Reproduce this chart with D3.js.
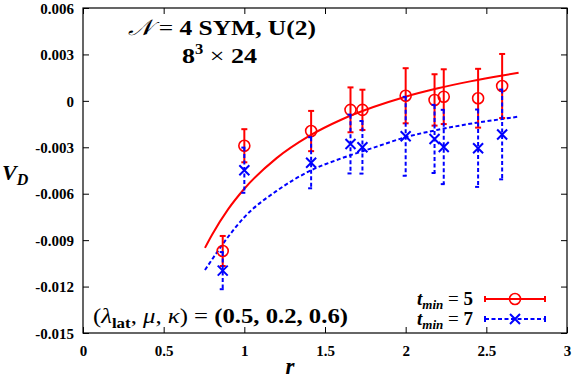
<!DOCTYPE html>
<html>
<head>
<meta charset="utf-8">
<script src="https://cdn.jsdelivr.net/npm/d3@7"></script>
<style>
  body { margin: 0; background: #fff; }
  text { font-family: "Liberation Serif", "DejaVu Serif", serif; }
</style>
</head>
<body>
<svg id="chart" width="580" height="381"></svg>
<script>
// separations r and the two data sets (t_min = 5 and t_min = 7)
var r_values = [0.866, 1.0, 1.414, 1.658, 1.732, 2.0, 2.179, 2.236, 2.449, 2.598];
var vd_tmin5 = [-0.0097, -0.0029, -0.00195, -0.00058, -0.00058, 0.00033, 0.00006, 0.00027, 0.00017, 0.00096];
var err_tmin5 = [0.00097, 0.00107, 0.0013, 0.00145, 0.0013, 0.00178, 0.00166, 0.00177, 0.0019, 0.00207];
var vd_tmin7 = [-0.01097, -0.00448, -0.004, -0.00279, -0.003, -0.00229, -0.00246, -0.00298, -0.00306, -0.00217];
var err_tmin7 = [0.0012, 0.00146, 0.00165, 0.0019, 0.0017, 0.00255, 0.0022, 0.0024, 0.0025, 0.0029];

// fit curves
var fit_r = [0.756, 0.8, 0.9, 1.0, 1.2, 1.4, 1.6, 1.8, 2.0, 2.2, 2.4, 2.6, 2.7];
var fit_tmin5 = [-0.0095, -0.00865, -0.0070, -0.00568, -0.0037, -0.00228, -0.00122, -0.0004, 0.00027, 0.00081, 0.00126, 0.00164, 0.00181];
var fit_tmin7 = [-0.01093, -0.01025, -0.00878, -0.00752, -0.00582, -0.00456, -0.00372, -0.00303, -0.00235, -0.00187, -0.00148, -0.00117, -0.00102];

var x_ticks = [0, 0.5, 1, 1.5, 2, 2.5, 3];
var y_ticks = [-0.015, -0.012, -0.009, -0.006, -0.003, 0, 0.003, 0.006];
var legend_labels = ["5", "7"];

var svg = d3.select("#chart");
var left = 83, top_ = 8, right = 567, bottom = 333;

var x = d3.scaleLinear().domain([0, 3]).range([left, right]);
var y = d3.scaleLinear().domain([-0.015, 0.006]).range([bottom, top_]);

// cadre
svg.append("rect")
   .attr("x", left).attr("y", top_)
   .attr("width", right - left).attr("height", bottom - top_)
   .attr("fill", "none").attr("stroke", "#000").attr("stroke-width", 1.2);

function fmt_y(d){ return d === 0 ? "0" : d3.format(".3f")(d).replace("−", "-"); }
function fmt_x(d){ return String(d); }

var xAxis = svg.append("g").attr("transform", "translate(0," + bottom + ")")
   .call(d3.axisBottom(x).tickValues(x_ticks).tickFormat(fmt_x).tickSizeInner(-6).tickSizeOuter(0).tickPadding(12));
var yAxis = svg.append("g").attr("transform", "translate(" + left + ",0)")
   .call(d3.axisLeft(y).tickValues(y_ticks).tickFormat(fmt_y).tickSizeInner(-6).tickSizeOuter(0).tickPadding(9));
// ticks miroir (haut et droite)
svg.append("g").attr("transform", "translate(0," + top_ + ")")
   .call(d3.axisTop(x).tickValues(x_ticks).tickFormat("").tickSizeInner(-6).tickSizeOuter(0));
svg.append("g").attr("transform", "translate(" + right + ",0)")
   .call(d3.axisRight(y).tickValues(y_ticks).tickFormat("").tickSizeInner(-6).tickSizeOuter(0));

svg.selectAll(".domain").remove();
svg.selectAll(".tick line").attr("stroke", "#000").attr("stroke-width", 1);
svg.selectAll(".tick text")
   .style("font-family", "Liberation Serif, serif")
   .style("font-weight", "bold")
   .style("font-size", "15px")
   .attr("fill", "#000");
yAxis.selectAll(".tick text").attr("dy", "0.35em");

// étiquettes des axes
svg.append("text").attr("x", 290).attr("y", 374).attr("text-anchor", "middle")
   .style("font-size", "23px").style("font-weight", "bold").style("font-style", "italic").text("r");
var vlab = svg.append("text").attr("x", 2).attr("y", 180)
   .style("font-size", "22px").style("font-weight", "bold").style("font-style", "italic");
vlab.append("tspan").text("V");
vlab.append("tspan").attr("dy", 5).style("font-size", "16px").text("D");

// courbes de fit
var line = d3.line().curve(d3.curveMonotoneX);
svg.append("path")
   .attr("d", line(fit_r.map(function(r, i){ return [x(r), y(fit_tmin5[i])]; })))
   .attr("fill", "none").attr("stroke", "#ff0000").attr("stroke-width", 2);
svg.append("path")
   .attr("d", line(fit_r.map(function(r, i){ return [x(r), y(fit_tmin7[i])]; })))
   .attr("fill", "none").attr("stroke", "#0000ff").attr("stroke-width", 2)
   .attr("stroke-dasharray", "4,2.5");

// barres d'erreur et symboles
function draw_series(values, errors, color, dashed, marker){
    var g = svg.append("g");
    var pts = r_values.map(function(r, i){ return {r: r, v: values[i], e: errors[i]}; });
    var cap = 3;
    pts.forEach(function(p){
        var cx = x(p.r), y1 = y(p.v + p.e), y2 = y(p.v - p.e);
        var eg = g.append("g").attr("stroke", color).attr("stroke-width", 2)
                  .attr("stroke-dasharray", dashed ? "4,2.5" : null);
        eg.append("line").attr("x1", cx).attr("x2", cx).attr("y1", y1).attr("y2", y2);
        eg.append("line").attr("x1", cx - cap).attr("x2", cx + cap).attr("y1", y1).attr("y2", y1).attr("stroke-dasharray", null);
        eg.append("line").attr("x1", cx - cap).attr("x2", cx + cap).attr("y1", y2).attr("y2", y2).attr("stroke-dasharray", null);
        marker(g, cx, y(p.v), color);
    });
}
function circle_marker(g, cx, cy, color){
    g.append("circle").attr("cx", cx).attr("cy", cy).attr("r", 5.5)
     .attr("fill", "none").attr("stroke", color).attr("stroke-width", 1.6);
}
function cross_marker(g, cx, cy, color){
    var s = 5;
    g.append("path").attr("d", "M" + (cx - s) + "," + (cy - s) + "L" + (cx + s) + "," + (cy + s) +
                               "M" + (cx - s) + "," + (cy + s) + "L" + (cx + s) + "," + (cy - s))
     .attr("stroke", color).attr("stroke-width", 2).attr("fill", "none");
}
draw_series(vd_tmin5, err_tmin5, "#ff0000", false, circle_marker);
draw_series(vd_tmin7, err_tmin7, "#0000ff", true, cross_marker);

// titre (largeur ajustée au rendu LaTeX, plus large)
var t1 = svg.append("text").attr("x", 128).attr("y", 35).style("font-size", "22px").style("font-weight", "bold")
            .attr("textLength", 188).attr("lengthAdjust", "spacingAndGlyphs");
t1.append("tspan").style("font-style", "italic").style("font-weight", "normal").text("𝒩");
t1.append("tspan").style("font-weight", "normal").text(" = ");
t1.append("tspan").text("4 SYM, U(2)");
var t2 = svg.append("text").attr("x", 182).attr("y", 63).style("font-size", "22px").style("font-weight", "bold")
            .attr("textLength", 75).attr("lengthAdjust", "spacingAndGlyphs");
t2.append("tspan").text("8");
t2.append("tspan").attr("dy", -9).style("font-size", "14px").text("3");
t2.append("tspan").attr("dy", 9).style("font-weight", "normal").text(" × ");
t2.append("tspan").text("24");

// paramètres
var t3 = svg.append("text").attr("x", 93).attr("y", 323).style("font-size", "22px")
            .attr("textLength", 255).attr("lengthAdjust", "spacingAndGlyphs");
t3.append("tspan").text("(");
t3.append("tspan").style("font-style", "italic").text("λ");
t3.append("tspan").attr("dy", 5).style("font-size", "15px").style("font-weight", "bold").text("lat");
t3.append("tspan").attr("dy", -5).text(", ");
t3.append("tspan").style("font-style", "italic").text("μ");
t3.append("tspan").text(", ");
t3.append("tspan").style("font-style", "italic").text("κ");
t3.append("tspan").text(") = ");
t3.append("tspan").style("font-weight", "bold").text("(0.5, 0.2, 0.6)");

// légende
var leg_y = [299, 319];
legend_labels.forEach(function(lab, i){
    var ly = leg_y[i];
    var color = i === 0 ? "#ff0000" : "#0000ff";
    var lt = svg.append("text").attr("x", 473).attr("y", ly + 6).attr("text-anchor", "end")
                .style("font-size", "19px").style("font-weight", "bold");
    lt.append("tspan").style("font-style", "italic").text("t");
    lt.append("tspan").attr("dy", 4).style("font-size", "13px").style("font-style", "italic").text("min");
    lt.append("tspan").attr("dy", -4).style("font-weight", "normal").text(" = ");
    lt.append("tspan").text(lab);
    var lg = svg.append("g").attr("stroke", color).attr("stroke-width", 2);
    lg.append("line").attr("x1", 485).attr("x2", 545).attr("y1", ly).attr("y2", ly)
      .attr("stroke-dasharray", i === 0 ? null : "4,2.5");
    lg.append("line").attr("x1", 485).attr("x2", 485).attr("y1", ly - 3).attr("y2", ly + 3);
    lg.append("line").attr("x1", 545).attr("x2", 545).attr("y1", ly - 3).attr("y2", ly + 3);
    if (i === 0) circle_marker(svg, 515, ly, color); else cross_marker(svg, 515, ly, color);
});
</script>
</body>
</html>
